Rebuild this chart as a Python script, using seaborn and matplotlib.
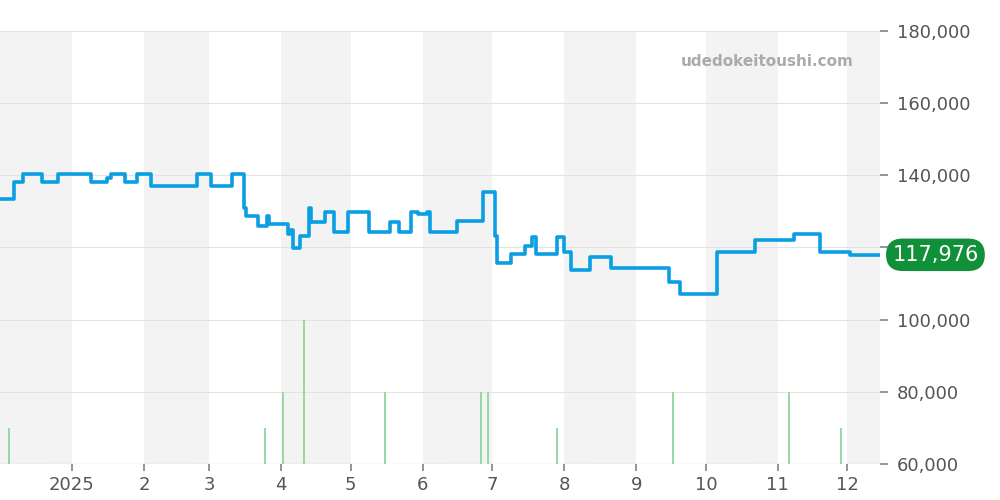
import matplotlib
matplotlib.use("Agg")
import matplotlib.pyplot as plt
import seaborn as sns
import pandas as pd

price_dates = ["2024-12-01","2024-12-07","2024-12-11","2024-12-19","2024-12-26","2025-01-09","2025-01-16","2025-01-18",
 "2025-01-24","2025-01-29","2025-02-04","2025-02-24","2025-03-02","2025-03-11","2025-03-16","2025-03-17","2025-03-22",
 "2025-03-26","2025-03-27","2025-04-04","2025-04-05","2025-04-06","2025-04-09","2025-04-13","2025-04-14","2025-04-20",
 "2025-04-24","2025-04-30","2025-05-09","2025-05-18","2025-05-22","2025-05-27","2025-05-30","2025-06-03","2025-06-04",
 "2025-06-16","2025-06-27","2025-07-02","2025-07-03","2025-07-09","2025-07-15","2025-07-18","2025-07-20","2025-07-29",
 "2025-08-01","2025-08-04","2025-08-12","2025-08-21","2025-09-15","2025-09-20","2025-10-06","2025-10-22","2025-11-08",
 "2025-11-19","2025-12-02","2025-12-15"]
price_values = [133400,138200,140400,138200,140400,138200,139300,140400,
 138200,140400,137000,140400,137000,140400,131000,128700,126000,
 128700,126500,123700,124800,119900,123200,131000,127000,129800,
 124300,129800,124300,127000,124300,129800,129300,129800,124300,
 127300,135400,123200,115700,118200,120400,122900,118200,122900,
 118700,113700,117400,114300,110400,107100,118700,122000,123700,
 118700,117976,117976]

vol_dates = ["2024-12-05","2025-03-25","2025-04-02","2025-04-11","2025-05-16","2025-06-26","2025-06-29",
 "2025-07-29","2025-09-17","2025-11-06","2025-11-28"]
vol_values = [70000,70000,80000,100000,80000,80000,80000,70000,80000,80000,70000]

month_ticks = ["2025-01-01","2025-02-01","2025-03-01","2025-04-01","2025-05-01","2025-06-01","2025-07-01",
 "2025-08-01","2025-09-01","2025-10-01","2025-11-01","2025-12-01"]
month_labels = ["2025","2","3","4","5","6","7","8","9","10","11","12"]
y_ticks = [60000, 80000, 100000, 120000, 140000, 160000, 180000]
y_labels = ["60,000", "80,000", "100,000", "", "140,000", "160,000", "180,000"]
last_label = "117,976"

sns.set_theme(style="white")
plt.rcParams['font.family'] = ['DejaVu Sans']
fig = plt.figure(figsize=(10, 5), dpi=100)
ax = fig.add_axes([0, 0.072, 0.88, 0.866])

xmin = pd.Timestamp("2024-12-01"); xmax = pd.Timestamp("2025-12-15")
bounds = [xmin] + [pd.Timestamp(d) for d in month_ticks] + [xmax]
for i in range(0, len(bounds) - 1, 2):
    ax.axvspan(bounds[i], bounds[i + 1], color="#f3f3f3", lw=0, zorder=0)

for v in y_ticks:
    ax.axhline(v, color="#e2e2e2", lw=0.8, zorder=1)

vd = pd.to_datetime(vol_dates)
ax.vlines(vd, 60000, vol_values, color="#8fd69a", lw=1.3, zorder=2)
ax.axhline(60000, color="#8fd69a", lw=1, ls=(0, (1, 2)), zorder=2)

df = pd.DataFrame({"date": pd.to_datetime(price_dates), "price": price_values})
sns.lineplot(data=df, x="date", y="price", ax=ax, drawstyle="steps-post", color="#0a9ee2", lw=2.6, zorder=3)

ax.set_xlim(xmin, xmax)
ax.set_ylim(60000, 180000)
ax.set_xticks(pd.to_datetime(month_ticks))
ax.set_xticklabels(month_labels)
ax.yaxis.tick_right()
ax.set_yticks(y_ticks)
ax.set_yticklabels(y_labels)
ax.tick_params(axis="y", length=6, color="#888888", labelsize=13, labelcolor="#555555", pad=6, right=True)
ax.tick_params(axis="x", length=5, color="#888888", labelsize=13, labelcolor="#555555", bottom=True)
ax.set_xlabel(""); ax.set_ylabel("")
for s in ax.spines.values():
    s.set_visible(False)

ax.text(0.97, 0.93, "udedokeitoushi.com", transform=ax.transAxes, ha="right", va="center",
        fontsize=11, color="#aaaaaa", fontweight="bold")
ax.text(1.063, 117976, last_label, transform=ax.get_yaxis_transform(), ha="center", va="center",
        fontsize=15, color="white", zorder=10, clip_on=False,
        bbox=dict(boxstyle="round,pad=0.3,rounding_size=0.8", fc="#109038", ec="none"))

fig.savefig("out.png", dpi=100)
